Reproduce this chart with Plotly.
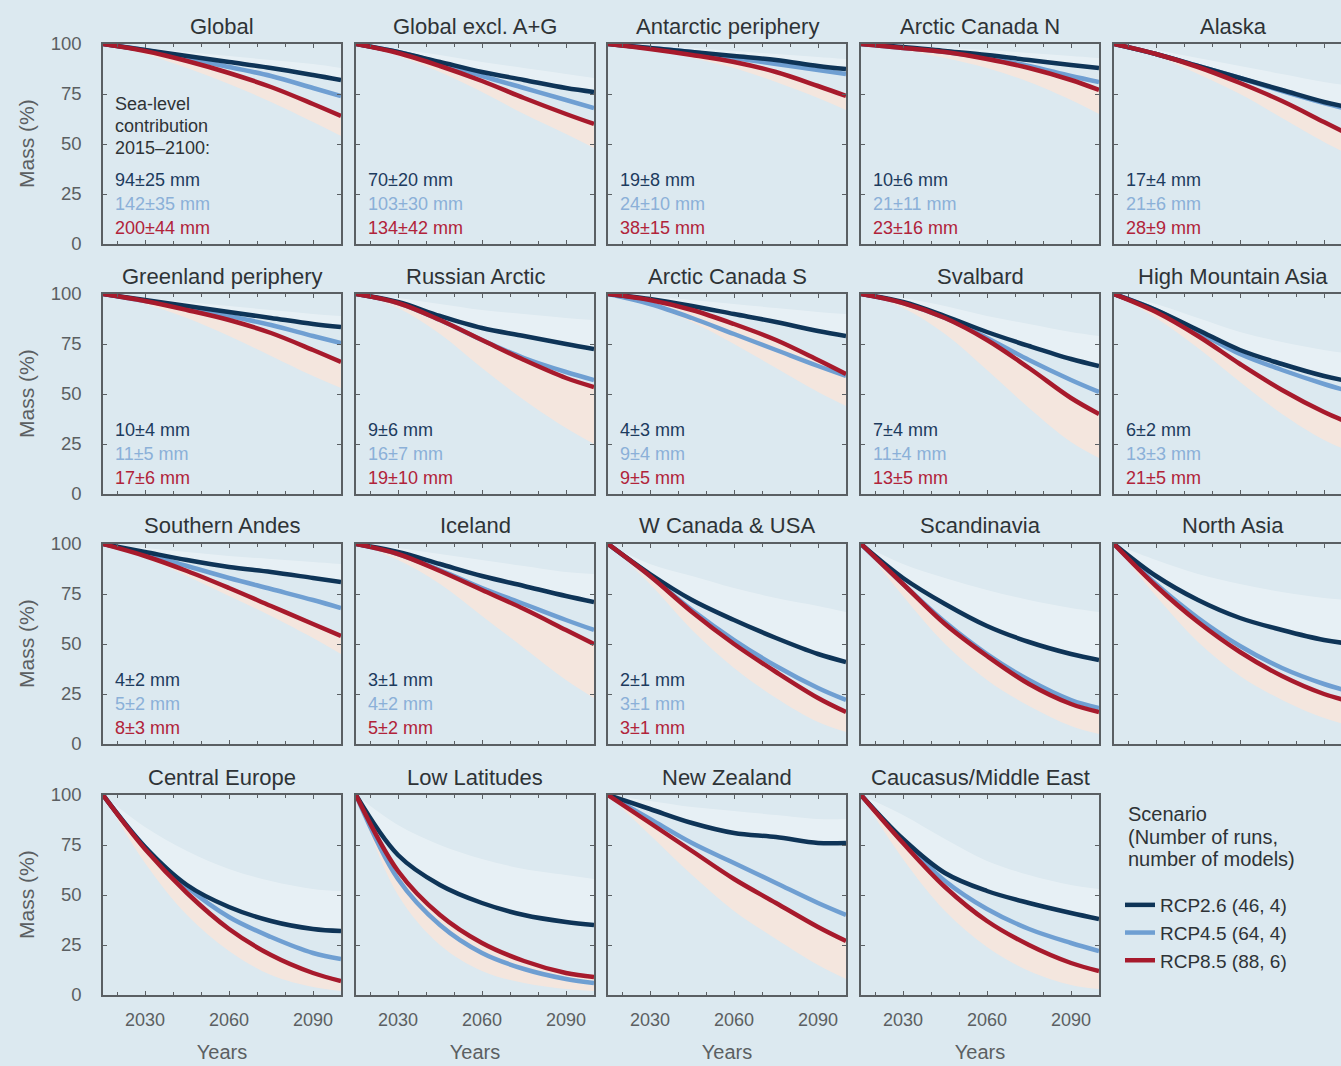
import plotly.graph_objects as go

# ---------------------------------------------------------------------------
# Data: glacier mass (% of 2015 mass) per region and RCP scenario
# ---------------------------------------------------------------------------
years = [2015, 2030, 2045, 2060, 2075, 2090, 2100]

regions = [
    "Global", "Global excl. A+G", "Antarctic periphery", "Arctic Canada N", "Alaska",
    "Greenland periphery", "Russian Arctic", "Arctic Canada S", "Svalbard", "High Mountain Asia",
    "Southern Andes", "Iceland", "W Canada & USA", "Scandinavia", "North Asia",
    "Central Europe", "Low Latitudes", "New Zealand", "Caucasus/Middle East",
]

rcp26 = {
    "Global":               [100, 97.0, 94.0, 91.0, 88.0, 84.5, 82.0],
    "Global excl. A+G":     [100, 96.0, 91.0, 86.0, 82.0, 78.0, 76.0],
    "Antarctic periphery":  [100, 98.0, 96.0, 94.0, 92.0, 89.0, 87.5],
    "Arctic Canada N":      [100, 98.5, 96.5, 94.5, 92.0, 89.5, 88.0],
    "Alaska":               [100, 95.0, 89.0, 83.0, 77.0, 71.0, 68.0],
    "Greenland periphery":  [100, 97.0, 94.0, 91.0, 88.0, 85.0, 83.5],
    "Russian Arctic":       [100, 96.0, 89.0, 83.0, 79.0, 75.0, 72.5],
    "Arctic Canada S":      [100, 97.5, 94.0, 90.0, 86.0, 81.5, 79.0],
    "Svalbard":             [100, 96.0, 89.0, 81.0, 74.0, 67.5, 64.0],
    "High Mountain Asia":   [100, 92.0, 82.0, 72.0, 65.0, 59.0, 56.0],
    "Southern Andes":       [100, 96.0, 92.0, 88.5, 86.0, 83.0, 81.0],
    "Iceland":              [100, 96.0, 90.0, 84.0, 79.0, 74.0, 71.0],
    "W Canada & USA":       [100, 85.0, 72.0, 62.0, 53.0, 45.0, 41.0],
    "Scandinavia":          [100, 83.0, 70.0, 59.0, 51.0, 45.0, 42.0],
    "North Asia":           [100, 84.0, 72.0, 63.0, 57.0, 52.0, 50.0],
    "Central Europe":       [100, 74.0, 55.0, 44.0, 37.0, 33.0, 32.0],
    "Low Latitudes":        [100, 70.0, 55.0, 46.0, 40.0, 36.5, 35.0],
    "New Zealand":          [100, 93.0, 86.0, 81.0, 79.0, 76.0, 76.0],
    "Caucasus/Middle East": [100, 78.0, 61.0, 52.0, 46.0, 41.0, 38.0],
}

rcp45 = {
    "Global":               [100, 97.0, 93.0, 88.5, 84.0, 78.0, 74.0],
    "Global excl. A+G":     [100, 96.0, 90.5, 84.0, 78.0, 72.0, 68.0],
    "Antarctic periphery":  [100, 98.0, 96.0, 93.0, 90.0, 87.0, 85.0],
    "Arctic Canada N":      [100, 98.0, 96.0, 93.0, 89.0, 84.0, 81.0],
    "Alaska":               [100, 95.0, 89.0, 83.0, 76.5, 70.5, 67.0],
    "Greenland periphery":  [100, 96.5, 93.0, 89.0, 84.5, 79.0, 75.5],
    "Russian Arctic":       [100, 95.5, 87.0, 77.0, 68.0, 61.0, 57.0],
    "Arctic Canada S":      [100, 95.0, 88.0, 80.0, 72.0, 64.0, 59.0],
    "Svalbard":             [100, 95.5, 88.0, 78.0, 67.0, 57.0, 51.0],
    "High Mountain Asia":   [100, 92.0, 81.0, 70.0, 62.0, 55.0, 51.0],
    "Southern Andes":       [100, 95.0, 89.0, 83.0, 77.5, 72.0, 68.0],
    "Iceland":              [100, 95.0, 87.0, 78.0, 70.0, 62.0, 57.0],
    "W Canada & USA":       [100, 84.0, 67.0, 52.0, 39.0, 28.0, 22.0],
    "Scandinavia":          [100, 80.0, 61.0, 45.0, 32.0, 22.0, 18.0],
    "North Asia":           [100, 80.0, 63.0, 49.0, 38.0, 30.0, 26.0],
    "Central Europe":       [100, 74.0, 54.0, 39.0, 29.0, 21.0, 18.0],
    "Low Latitudes":        [100, 58.0, 35.0, 21.0, 13.0, 8.0, 6.0],
    "New Zealand":          [100, 88.0, 76.0, 66.0, 56.0, 46.0, 40.0],
    "Caucasus/Middle East": [100, 77.0, 57.0, 43.0, 33.0, 26.0, 22.0],
}

rcp85 = {
    "Global":               [100, 96.5, 91.5, 85.5, 78.5, 70.0, 64.0],
    "Global excl. A+G":     [100, 95.5, 89.0, 81.5, 73.0, 65.0, 60.0],
    "Antarctic periphery":  [100, 97.5, 94.5, 91.0, 86.0, 79.0, 74.0],
    "Arctic Canada N":      [100, 98.0, 96.0, 92.5, 88.0, 82.0, 77.0],
    "Alaska":               [100, 95.0, 88.5, 80.5, 71.5, 61.0, 54.0],
    "Greenland periphery":  [100, 96.5, 92.0, 87.0, 80.5, 72.0, 66.0],
    "Russian Arctic":       [100, 95.5, 87.0, 77.0, 67.0, 58.0, 53.5],
    "Arctic Canada S":      [100, 97.0, 92.0, 85.0, 77.0, 67.0, 60.0],
    "Svalbard":             [100, 95.5, 88.0, 77.0, 63.0, 48.0, 40.0],
    "High Mountain Asia":   [100, 91.0, 79.0, 65.0, 52.0, 41.0, 35.0],
    "Southern Andes":       [100, 94.0, 86.5, 78.0, 69.0, 60.0, 54.0],
    "Iceland":              [100, 95.0, 86.5, 77.0, 67.5, 57.0, 50.0],
    "W Canada & USA":       [100, 84.0, 66.0, 50.0, 36.0, 23.0, 16.0],
    "Scandinavia":          [100, 80.0, 60.0, 44.0, 30.0, 20.0, 16.0],
    "North Asia":           [100, 79.0, 61.0, 46.0, 34.0, 25.0, 21.0],
    "Central Europe":       [100, 73.0, 51.0, 33.0, 20.0, 11.0, 7.0],
    "Low Latitudes":        [100, 62.0, 40.0, 26.0, 17.0, 11.0, 9.0],
    "New Zealand":          [100, 86.0, 72.0, 58.0, 46.0, 34.0, 27.0],
    "Caucasus/Middle East": [100, 76.0, 54.0, 37.0, 25.0, 16.0, 12.0],
}

# Upper edge of the RCP2.6 spread and lower edge of the RCP8.5 spread
rcp26_high = {
    "Global":               [100, 98.0, 96.0, 94.0, 92.0, 90.0, 88.0],
    "Global excl. A+G":     [100, 97.5, 94.5, 91.0, 88.0, 85.0, 83.0],
    "Antarctic periphery":  [100, 99.0, 98.0, 96.5, 95.0, 93.5, 92.5],
    "Arctic Canada N":      [100, 99.0, 98.0, 97.0, 95.5, 94.0, 93.0],
    "Alaska":               [100, 97.0, 93.0, 89.0, 85.0, 81.0, 79.0],
    "Greenland periphery":  [100, 98.0, 96.0, 94.0, 92.0, 90.0, 89.0],
    "Russian Arctic":       [100, 98.0, 95.0, 92.0, 90.0, 88.0, 87.0],
    "Arctic Canada S":      [100, 99.0, 97.0, 95.0, 93.0, 91.0, 90.0],
    "Svalbard":             [100, 98.0, 94.0, 89.0, 85.0, 81.0, 79.0],
    "High Mountain Asia":   [100, 95.0, 88.0, 81.0, 76.0, 72.0, 70.0],
    "Southern Andes":       [100, 98.0, 96.0, 94.0, 92.5, 91.0, 90.0],
    "Iceland":              [100, 98.0, 95.0, 92.0, 89.0, 86.0, 85.0],
    "W Canada & USA":       [100, 90.0, 84.0, 78.0, 73.0, 69.0, 66.0],
    "Scandinavia":          [100, 90.0, 83.0, 77.0, 72.0, 68.0, 66.0],
    "North Asia":           [100, 92.0, 85.0, 80.0, 76.0, 73.0, 72.0],
    "Central Europe":       [100, 84.0, 72.0, 63.0, 57.0, 53.0, 52.0],
    "Low Latitudes":        [100, 85.0, 75.0, 68.0, 63.0, 60.0, 58.0],
    "New Zealand":          [100, 97.0, 94.0, 92.0, 90.0, 88.0, 88.0],
    "Caucasus/Middle East": [100, 90.0, 78.0, 67.0, 60.0, 55.0, 53.0],
}

rcp85_low = {
    "Global":               [100, 95.0, 88.0, 80.0, 71.0, 61.0, 54.0],
    "Global excl. A+G":     [100, 94.0, 86.0, 76.0, 65.0, 55.0, 48.0],
    "Antarctic periphery":  [100, 97.0, 93.0, 88.0, 81.0, 73.0, 67.0],
    "Arctic Canada N":      [100, 97.0, 93.0, 88.0, 81.0, 72.0, 65.0],
    "Alaska":               [100, 94.0, 85.0, 75.0, 63.0, 51.0, 44.0],
    "Greenland periphery":  [100, 95.0, 88.0, 79.0, 69.0, 59.0, 53.0],
    "Russian Arctic":       [100, 93.0, 80.0, 63.0, 47.0, 33.0, 25.0],
    "Arctic Canada S":      [100, 94.0, 86.0, 75.0, 63.0, 51.0, 44.0],
    "Svalbard":             [100, 93.0, 80.0, 62.0, 43.0, 26.0, 18.0],
    "High Mountain Asia":   [100, 88.0, 73.0, 56.0, 40.0, 27.0, 21.0],
    "Southern Andes":       [100, 93.0, 84.0, 74.0, 64.0, 53.0, 45.0],
    "Iceland":              [100, 92.0, 80.0, 64.0, 48.0, 32.0, 23.0],
    "W Canada & USA":       [100, 80.0, 57.0, 38.0, 23.0, 11.0, 6.0],
    "Scandinavia":          [100, 74.0, 50.0, 32.0, 19.0, 9.0, 5.0],
    "North Asia":           [100, 74.0, 51.0, 34.0, 22.0, 13.0, 9.0],
    "Central Europe":       [100, 66.0, 40.0, 22.0, 10.0, 4.0, 2.0],
    "Low Latitudes":        [100, 50.0, 25.0, 12.0, 6.0, 3.0, 2.0],
    "New Zealand":          [100, 80.0, 60.0, 42.0, 28.0, 15.0, 8.0],
    "Caucasus/Middle East": [100, 68.0, 42.0, 24.0, 12.0, 5.0, 3.0],
}

# Sea-level contribution 2015-2100 (mm), per scenario
slr26 = {
    "Global": "94±25 mm", "Global excl. A+G": "70±20 mm", "Antarctic periphery": "19±8 mm",
    "Arctic Canada N": "10±6 mm", "Alaska": "17±4 mm", "Greenland periphery": "10±4 mm",
    "Russian Arctic": "9±6 mm", "Arctic Canada S": "4±3 mm", "Svalbard": "7±4 mm",
    "High Mountain Asia": "6±2 mm", "Southern Andes": "4±2 mm", "Iceland": "3±1 mm",
    "W Canada & USA": "2±1 mm",
}
slr45 = {
    "Global": "142±35 mm", "Global excl. A+G": "103±30 mm", "Antarctic periphery": "24±10 mm",
    "Arctic Canada N": "21±11 mm", "Alaska": "21±6 mm", "Greenland periphery": "11±5 mm",
    "Russian Arctic": "16±7 mm", "Arctic Canada S": "9±4 mm", "Svalbard": "11±4 mm",
    "High Mountain Asia": "13±3 mm", "Southern Andes": "5±2 mm", "Iceland": "4±2 mm",
    "W Canada & USA": "3±1 mm",
}
slr85 = {
    "Global": "200±44 mm", "Global excl. A+G": "134±42 mm", "Antarctic periphery": "38±15 mm",
    "Arctic Canada N": "23±16 mm", "Alaska": "28±9 mm", "Greenland periphery": "17±6 mm",
    "Russian Arctic": "19±10 mm", "Arctic Canada S": "9±5 mm", "Svalbard": "13±5 mm",
    "High Mountain Asia": "21±5 mm", "Southern Andes": "8±3 mm", "Iceland": "5±2 mm",
    "W Canada & USA": "3±1 mm",
}

scenario_names = ["RCP2.6 (46, 4)", "RCP4.5 (64, 4)", "RCP8.5 (88, 6)"]
slr_heading = ["Sea-level", "contribution", "2015–2100:"]
legend_heading = ["Scenario", "(Number of runs,", "number of models)"]
x_ticks = [2030, 2060, 2090]
y_ticks = [0, 25, 50, 75, 100]

# ---------------------------------------------------------------------------
# Styling
# ---------------------------------------------------------------------------
W, H = 1341, 1066
BG = "#dce9f0"
C26, C45, C85 = "#0e3457", "#6f9fd2", "#a71a2c"
T26, T45, T85 = "#1d3b5e", "#8bb0d8", "#b1233a"
FONT = "Liberation Sans, Arial, sans-serif"
AXIS = "#5a5f63"
GREY_TXT = "#5b5f62"
DARK_TXT = "#2e3336"

col_left = [103, 356, 608, 861, 1114]
row_top = [44, 294, 544, 795]
PW, PH = 238, 200
YEARS_PER_PX = 85.0 / PW

fig = go.Figure()
annotations = []
layout_axes = {}


def px_x(p):
    return p / W


def px_y(p):
    return 1 - p / H


for i, reg in enumerate(regions):
    r, c = divmod(i, 5)
    n = i + 1
    xa = "x" if n == 1 else f"x{n}"
    ya = "y" if n == 1 else f"y{n}"
    left = col_left[c]
    right = min(left + PW, W)
    top = row_top[r]
    x_hi = 2015 + (right - left) * YEARS_PER_PX
    clipped = right < left + PW

    # spread bands
    fig.add_trace(go.Scatter(x=years, y=rcp26_high[reg], xaxis=xa, yaxis=ya, mode="lines",
                             line=dict(width=0, shape="spline"), hoverinfo="skip", showlegend=False))
    fig.add_trace(go.Scatter(x=years, y=rcp26[reg], xaxis=xa, yaxis=ya, mode="lines",
                             line=dict(width=0, shape="spline"), fill="tonexty",
                             fillcolor="rgba(255,255,255,0.33)", hoverinfo="skip", showlegend=False))
    fig.add_trace(go.Scatter(x=years, y=rcp85[reg], xaxis=xa, yaxis=ya, mode="lines",
                             line=dict(width=0, shape="spline"), hoverinfo="skip", showlegend=False))
    fig.add_trace(go.Scatter(x=years, y=rcp85_low[reg], xaxis=xa, yaxis=ya, mode="lines",
                             line=dict(width=0, shape="spline"), fill="tonexty",
                             fillcolor="rgba(255,228,214,0.68)", hoverinfo="skip", showlegend=False))

    # median lines (RCP4.5 beneath, RCP8.5 on top)
    for vals, col, name in [(rcp45[reg], C45, scenario_names[1]),
                            (rcp26[reg], C26, scenario_names[0]),
                            (rcp85[reg], C85, scenario_names[2])]:
        fig.add_trace(go.Scatter(x=years, y=vals, xaxis=xa, yaxis=ya, mode="lines",
                                 line=dict(color=col, width=4.5, shape="spline"),
                                 name=name, showlegend=False))

    layout_axes["xaxis" if n == 1 else f"xaxis{n}"] = dict(
        domain=[px_x(left), px_x(right)], anchor=ya, range=[2015, x_hi], automargin=False,
        tickvals=x_ticks, showticklabels=(r == 3), ticks="inside", ticklen=4,
        tickcolor=AXIS, showline=True, linecolor=AXIS, linewidth=1.5,
        mirror="ticks", showgrid=False, zeroline=False,
        tickfont=dict(size=18, color=GREY_TXT, family=FONT), ticklabelstandoff=8,
        minor=dict(tickvals=[2020, 2040, 2050, 2070, 2080, 2100], ticks="inside",
                   ticklen=3, tickcolor=AXIS),
        title=dict(text="Years" if r == 3 else "", font=dict(size=20, color=GREY_TXT, family=FONT),
                   standoff=16),
    )
    layout_axes["yaxis" if n == 1 else f"yaxis{n}"] = dict(
        domain=[px_y(top + PH), px_y(top)], anchor=xa, range=[0, 100], automargin=False,
        tickvals=y_ticks, showticklabels=(c == 0), ticks="inside", ticklen=4,
        tickcolor=AXIS, showline=True, linecolor=AXIS, linewidth=1.5,
        mirror=False if clipped else "ticks", showgrid=False, zeroline=False,
        tickfont=dict(size=18.5, color=GREY_TXT, family=FONT), ticklabelstandoff=16,
    )

    # panel title
    annotations.append(dict(text=reg, xref="paper", yref="paper",
                            x=px_x(left + PW / 2), y=px_y(top - 18),
                            xanchor="center", yanchor="middle", showarrow=False,
                            font=dict(size=22, color=DARK_TXT, family=FONT)))

    # sea-level contribution labels
    if reg in slr26:
        dom_x = f"{xa} domain"
        dom_y = f"{ya} domain"
        x0 = 10.0 / (right - left)
        for txt, yy, col in [(slr26[reg], 0.32, T26), (slr45[reg], 0.20, T45), (slr85[reg], 0.08, T85)]:
            annotations.append(dict(text=txt, xref=dom_x, yref=dom_y, x=x0,
                                    y=yy, xanchor="left", yanchor="middle", showarrow=False,
                                    font=dict(size=18, color=col, family=FONT)))
        if reg == "Global":
            for k, line in enumerate(slr_heading):
                annotations.append(dict(text=line, xref=dom_x, yref=dom_y, x=x0,
                                        y=0.70 - 0.11 * k, xanchor="left", yanchor="middle",
                                        showarrow=False,
                                        font=dict(size=18, color=DARK_TXT, family=FONT)))

# y-axis titles, one per row
for r in range(4):
    annotations.append(dict(text="Mass (%)", xref="paper", yref="paper",
                            x=px_x(26), y=px_y(row_top[r] + PH / 2), textangle=-90,
                            xanchor="center", yanchor="middle", showarrow=False,
                            font=dict(size=21, color=GREY_TXT, family=FONT)))

# legend heading, one line at a time
for k, line in enumerate(legend_heading):
    annotations.append(dict(text=line, xref="paper", yref="paper",
                            x=px_x(1126), y=px_y(814 + 22.5 * k),
                            xanchor="left", yanchor="middle", showarrow=False,
                            font=dict(size=20, color=DARK_TXT, family=FONT)))

# legend entries
for name, col in zip(scenario_names, [C26, C45, C85]):
    fig.add_trace(go.Scatter(x=[None], y=[None], mode="lines", xaxis="x", yaxis="y",
                             line=dict(color=col, width=4.5), name=name, showlegend=True))

fig.update_layout(
    width=W, height=H,
    margin=dict(l=0, r=0, t=0, b=0, autoexpand=False),
    paper_bgcolor=BG, plot_bgcolor=BG,
    font=dict(family=FONT, color=DARK_TXT),
    annotations=annotations,
    legend=dict(x=px_x(1120), y=px_y(886), xanchor="left", yanchor="top",
                traceorder="normal", bgcolor="rgba(0,0,0,0)",
                font=dict(size=19, color=DARK_TXT, family=FONT),
                tracegroupgap=0, itemwidth=30),
    **layout_axes,
)

fig.write_html("out.html")
